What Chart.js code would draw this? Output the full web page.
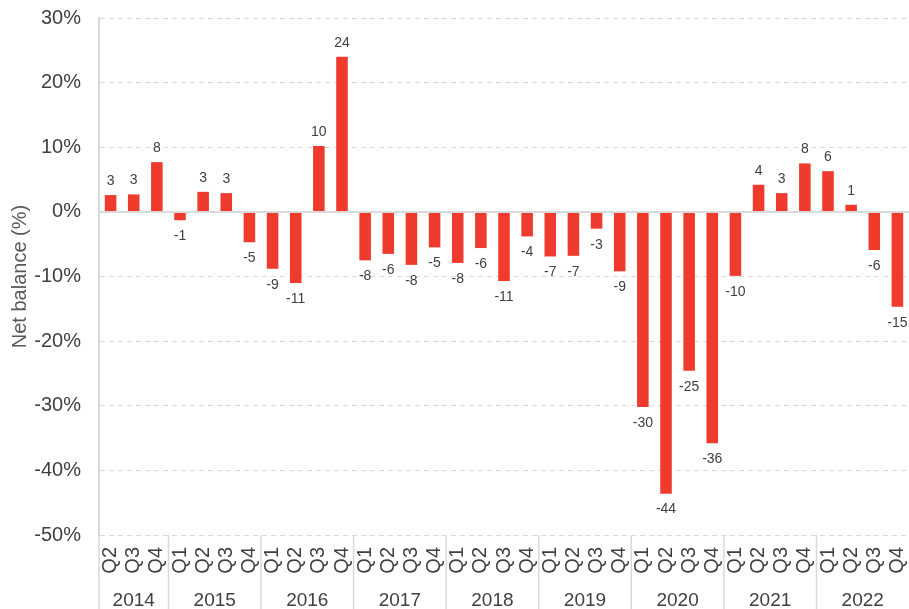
<!DOCTYPE html>
<html><head><meta charset="utf-8">
<script src="https://cdn.jsdelivr.net/npm/chart.js@4/dist/chart.umd.min.js"></script>
<style>html,body{margin:0;padding:0;background:#fff}#wrap{width:909px;height:609px;position:relative}</style>
</head><body><div id="wrap"><canvas id="c" width="909" height="609"></canvas></div>
<script>
const quarters = ['Q2','Q3','Q4',
  'Q1','Q2','Q3','Q4','Q1','Q2','Q3','Q4','Q1','Q2','Q3','Q4','Q1','Q2','Q3','Q4',
  'Q1','Q2','Q3','Q4','Q1','Q2','Q3','Q4','Q1','Q2','Q3','Q4','Q1','Q2','Q3','Q4'];
const years = ['2014','2015','2016','2017','2018','2019','2020','2021','2022'];
const quartersPerYear = [3,4,4,4,4,4,4,4,4];
const netBalance = [2.6, 2.7, 7.7,
  -1.3, 3.1, 2.9, -4.7,
  -8.8, -11.0, 10.2, 24.0,
  -7.5, -6.5, -8.2, -5.5,
  -7.9, -5.6, -10.7, -3.8,
  -6.9, -6.8, -2.6, -9.2,
  -30.2, -43.6, -24.6, -35.8,
  -9.9, 4.2, 2.9, 7.5,
  6.3, 1.1, -5.9, -14.7];
const dataLabels = [3,3,8,-1,3,3,-5,-9,-11,10,24,-8,-6,-8,-5,-8,-6,-11,-4,-7,-7,-3,-9,-30,-44,-25,-36,-10,4,3,8,6,1,-6,-15];
const yMin = -50, yMax = 30, yStep = 10;

const FONT = '"Liberation Sans", Arial, sans-serif';
const TXT = '#404040';

const overlay = {
  id: 'overlay',
  afterDatasetsDraw(chart) {
    const ctx = chart.ctx, x = chart.scales.x, y = chart.scales.y, a = chart.chartArea;
    ctx.save();
    const y0 = y.getPixelForValue(0);
    ctx.strokeStyle = '#d9d9d9'; ctx.lineWidth = 2; ctx.setLineDash([]);
    ctx.beginPath(); ctx.moveTo(a.left, y0); ctx.lineTo(a.right, y0); ctx.stroke();
    const meta = chart.getDatasetMeta(0);
    ctx.font = '14px ' + FONT; ctx.fillStyle = TXT; ctx.textAlign = 'center'; ctx.textBaseline = 'middle';
    meta.data.forEach((bar, i) => {
      const v = netBalance[i];
      const ty = v >= 0 ? bar.y - 14 : bar.y + 16;
      ctx.fillText(String(dataLabels[i]), bar.x, ty);
    });
    const cw = x.getPixelForValue(1) - x.getPixelForValue(0);
    let idx = 0;
    ctx.strokeStyle = '#d9d9d9'; ctx.lineWidth = 1.5;
    ctx.font = '19px ' + FONT; ctx.fillStyle = TXT;
    years.forEach((yr, k) => {
      const first = idx, last = idx + quartersPerYear[k] - 1;
      const l = x.getPixelForValue(first) - cw / 2, r = x.getPixelForValue(last) + cw / 2;
      ctx.beginPath(); ctx.moveTo(l, a.bottom); ctx.lineTo(l, chart.height); ctx.stroke();
      ctx.fillText(yr, (l + r) / 2, 601);
      idx = last + 1;
    });
    ctx.restore();
  }
};

new Chart(document.getElementById('c'), {
  type: 'bar',
  data: { labels: quarters, datasets: [{ data: netBalance, backgroundColor: '#ef3b2e', borderWidth: 0,
    categoryPercentage: 1, barPercentage: 0.5 }] },
  options: {
    responsive: false, animation: false,
    layout: { padding: { top: 18, right: 0, bottom: 0, left: 0 } },
    plugins: { legend: { display: false }, tooltip: { enabled: false } },
    scales: {
      x: {
        grid: { display: false, drawTicks: false },
        border: { display: false },
        ticks: { autoSkip: false, minRotation: 90, maxRotation: 90, padding: 12, color: TXT, font: { family: FONT, size: 20 } },
        afterFit(s) { s.height = 74; s.paddingLeft = 0; s.paddingRight = 0; }
      },
      y: {
        min: yMin, max: yMax,
        grid: { color: '#d9d9d9', lineWidth: 1, drawTicks: false },
        border: { display: true, color: '#d9d9d9', width: 2, dash: [5, 4] },
        ticks: { stepSize: yStep, padding: 18, color: TXT, font: { family: FONT, size: 20 }, callback: v => v + '%' },
        title: { display: true, text: 'Net balance (%)', color: '#595959', font: { family: FONT, size: 20 }, padding: { top: 8, bottom: 0 } },
        afterFit(s) { s.width = 99; s.paddingTop = 0; s.paddingBottom = 0; }
      }
    }
  },
  plugins: [overlay]
});
</script>
</body></html>
